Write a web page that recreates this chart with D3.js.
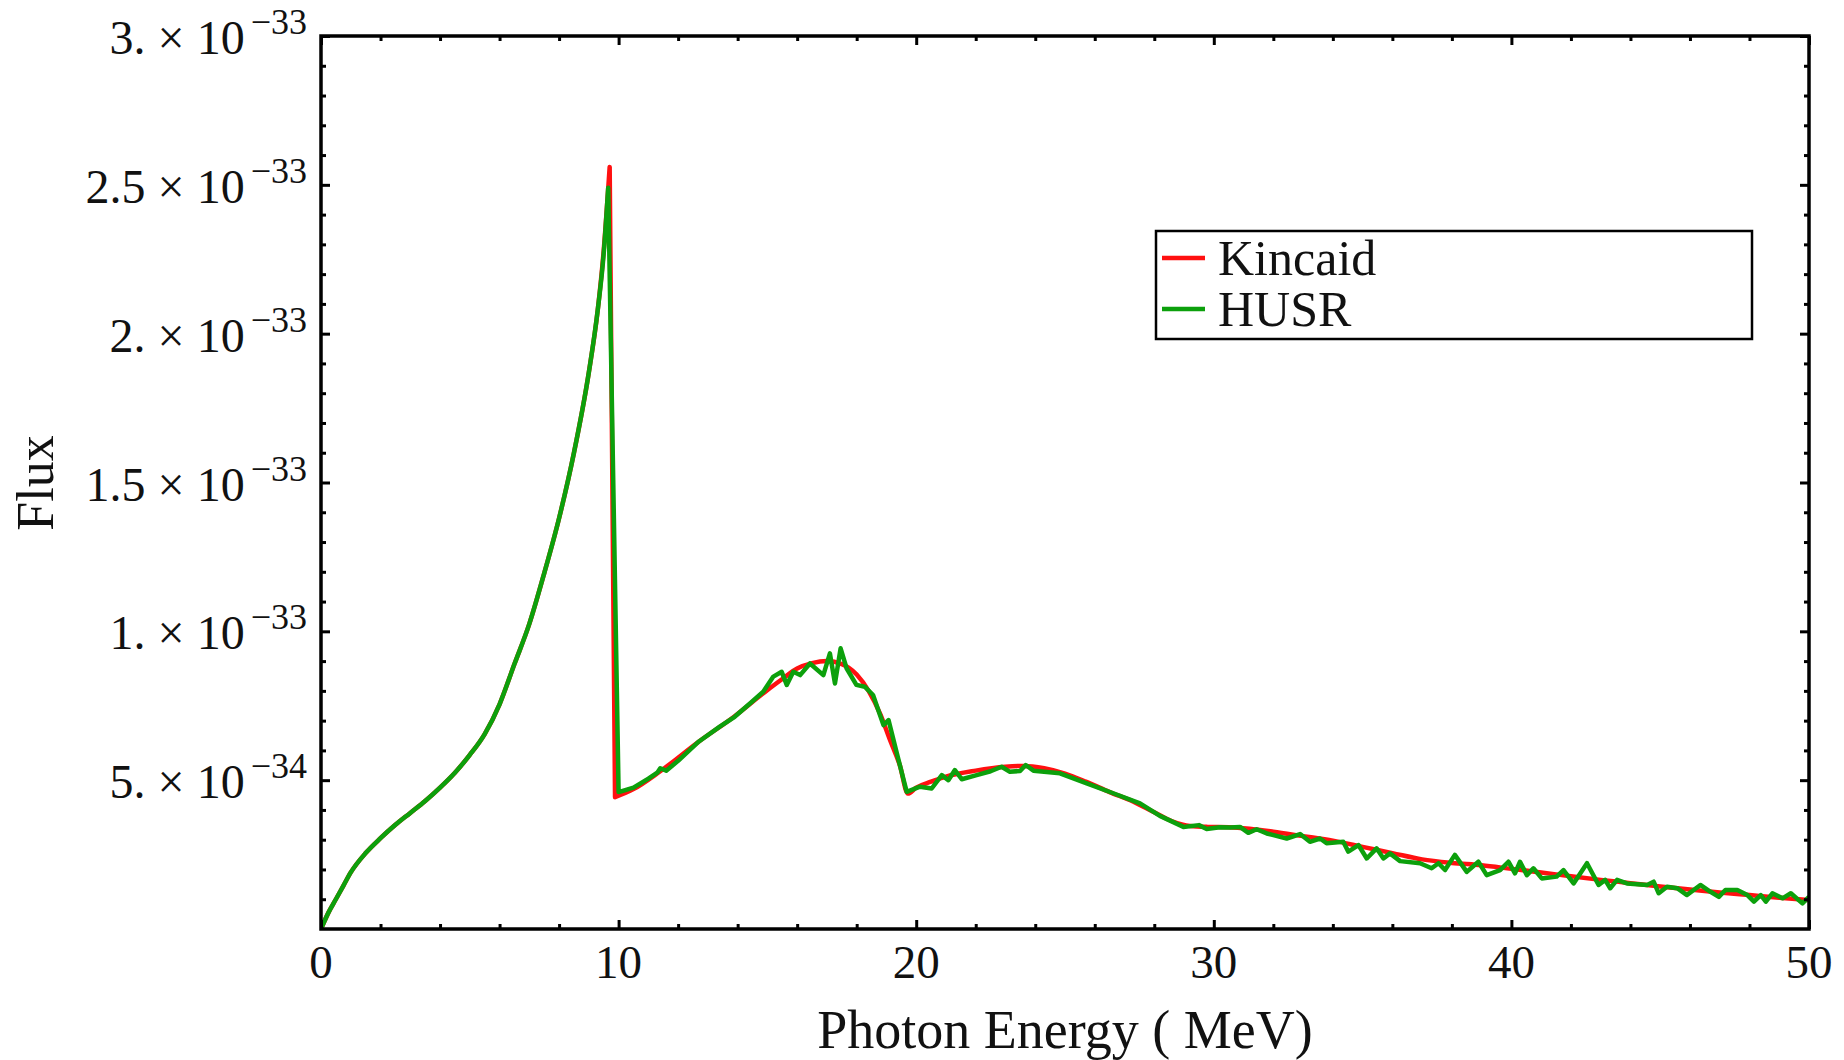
<!DOCTYPE html>
<html>
<head>
<meta charset="utf-8">
<script src="https://cdn.jsdelivr.net/npm/d3@7"></script>
<style>
  body { margin: 0; background: #ffffff; }
  text { font-family: "Liberation Serif", "DejaVu Serif", serif; fill: #111; }
</style>
</head>
<body>
<svg id="chart" width="1844" height="1060"></svg>
<script>
// Flux values are stored in units of 1e-33.
const FLUX_UNIT = 1e-33;

// Kincaid spectrum (smooth)
const kincaidEnergy = [0, 0.25, 0.5, 0.75, 1.0, 1.5, 2.0, 2.5, 3.0, 3.5, 4.0, 4.5, 5.0, 5.5, 6.0, 6.5, 7.0, 7.5, 8.0, 8.5, 9.0, 9.3, 9.5, 9.7,
  9.88, 10.5, 11.4, 12.7, 13.9, 14.9, 15.5, 16.0, 16.5, 17.0, 17.5, 18.0, 18.4, 18.8, 19.1, 19.45, 19.72,
  20.0, 20.5, 21.0, 22.0, 23.0, 23.6, 24.3, 25.0, 25.7, 26.5, 27.3, 28.0, 28.6, 29.2, 29.8,
  30.5, 31.2, 32.0, 33.0, 34.0, 35.0, 36.0, 37.0, 38.0, 39.0, 40.0, 41.0, 42.0, 43.0, 44.0, 45.0, 46.0, 47.0, 48.0, 49.0, 50.0];
const kincaidFlux = [0, 0.055, 0.1, 0.145, 0.19, 0.255, 0.305, 0.35, 0.39, 0.43, 0.475, 0.525, 0.585, 0.655, 0.755, 0.89, 1.025, 1.195, 1.38, 1.6, 1.87, 2.08, 2.28, 2.56,
  0.443, 0.47, 0.53, 0.63, 0.715, 0.795, 0.84, 0.875, 0.893, 0.90, 0.89, 0.855, 0.80, 0.72, 0.64, 0.55, 0.455,
  0.475, 0.495, 0.512, 0.532, 0.545, 0.548, 0.54, 0.522, 0.495, 0.46, 0.428, 0.392, 0.362, 0.346, 0.343,
  0.342, 0.337, 0.327, 0.312, 0.297, 0.276, 0.255, 0.234, 0.222, 0.214, 0.202, 0.19, 0.177, 0.165, 0.154, 0.143, 0.133, 0.123, 0.114, 0.105, 0.097];

// HUSR spectrum (Monte Carlo, noisy)
const husrEnergy = [0, 0.25, 0.5, 0.75, 1.0, 1.5, 2.0, 2.5, 3.0, 3.5, 4.0, 4.5, 5.0, 5.5, 6.0, 6.5, 7.0, 7.5, 8.0, 8.5, 9.0, 9.3, 9.5, 9.65,
  10.0, 10.5, 11.0, 11.3, 11.4, 11.6, 12.0, 12.7, 13.4, 13.9, 14.5, 14.86, 15.2, 15.48, 15.65, 15.87, 16.1, 16.43, 16.88, 17.1, 17.27, 17.46, 17.66,
  17.99, 18.27, 18.55, 18.9, 19.07, 19.35, 19.68, 20.13, 20.52, 20.86, 21.08, 21.3, 21.53, 22.03, 22.5, 22.87, 23.15, 23.49, 23.68, 23.94,
  24.83, 25.73, 26.62, 27.52, 28.19, 28.98, 29.5, 29.76, 30.2, 30.54, 30.88, 31.16, 31.44, 31.78, 32.45, 32.9, 33.23, 33.57, 33.79,
  34.35, 34.52, 34.86, 35.14, 35.47, 35.7, 35.92, 36.26, 36.93, 37.32, 37.55, 37.77, 38.1, 38.5, 38.89, 39.17, 39.62, 39.9, 40.12,
  40.29, 40.52, 40.74, 41.02, 41.52, 41.75, 42.09, 42.54, 42.93, 43.15, 43.32, 43.55, 43.88, 44.56, 44.78, 44.95, 45.23, 45.57, 45.9,
  46.35, 46.69, 46.97, 47.19, 47.59, 47.93, 48.15, 48.38, 48.55, 48.77, 49.11, 49.39, 49.78, 50.0];
const husrFlux = [0, 0.055, 0.1, 0.145, 0.19, 0.255, 0.305, 0.35, 0.39, 0.43, 0.475, 0.525, 0.585, 0.655, 0.755, 0.89, 1.025, 1.195, 1.38, 1.6, 1.87, 2.08, 2.27, 2.49,
  0.46, 0.475, 0.505, 0.525, 0.54, 0.532, 0.565, 0.63, 0.68, 0.713, 0.765, 0.797, 0.848, 0.864, 0.82, 0.864, 0.853, 0.892, 0.853, 0.926, 0.825, 0.943, 0.876,
  0.82, 0.814, 0.786, 0.685, 0.702, 0.59, 0.461, 0.478, 0.472, 0.517, 0.5, 0.534, 0.503, 0.517, 0.53, 0.545, 0.528, 0.531, 0.551, 0.532,
  0.523, 0.489, 0.456, 0.422, 0.38, 0.343, 0.349, 0.336, 0.342, 0.341, 0.343, 0.323, 0.335, 0.321, 0.304, 0.319, 0.293, 0.304, 0.288,
  0.293, 0.26, 0.282, 0.237, 0.271, 0.237, 0.254, 0.228, 0.221, 0.204, 0.221, 0.198, 0.249, 0.192, 0.226, 0.181, 0.198, 0.226, 0.187,
  0.226, 0.181, 0.204, 0.17, 0.176, 0.198, 0.153, 0.221, 0.148, 0.165, 0.137, 0.165, 0.153, 0.148, 0.159, 0.12, 0.142, 0.137, 0.114,
  0.148, 0.125, 0.108, 0.131, 0.131, 0.114, 0.092, 0.114, 0.092, 0.12, 0.103, 0.12, 0.086, 0.108];

// Axis ticks
const xMajorTicks = [0, 10, 20, 30, 40, 50];
const yMajorTicks = [0.5, 1.0, 1.5, 2.0, 2.5, 3.0];
const yTickMantissa = ["5.", "1.", "1.5", "2.", "2.5", "3."];
const yTickExponent = ["\u221234", "\u221233", "\u221233", "\u221233", "\u221233", "\u221233"];

const seriesNames = ["Kincaid", "HUSR"];
const seriesColors = ["#ff1010", "#0ca00c"];

const svg = d3.select("#chart");
const plot = { left: 321, right: 1809, top: 36, bottom: 929 };

const x = d3.scaleLinear().domain([0, 50]).range([plot.left, plot.right]);
const y = d3.scaleLinear().domain([0, 3 * FLUX_UNIT]).range([plot.bottom, plot.top]);

// Clip the curves to the frame
svg.append("defs").append("clipPath").attr("id", "plotClip")
  .append("rect")
  .attr("x", plot.left).attr("y", plot.top)
  .attr("width", plot.right - plot.left).attr("height", plot.bottom - plot.top);

const lineSmooth = d3.line()
  .x(d => x(d[0])).y(d => y(d[1] * FLUX_UNIT))
  .curve(d3.curveMonotoneX);
const lineStraight = d3.line()
  .x(d => x(d[0])).y(d => y(d[1] * FLUX_UNIT))
  .curve(d3.curveLinear);

const kincaid = kincaidEnergy.map((e, i) => [e, kincaidFlux[i]]);
const husr = husrEnergy.map((e, i) => [e, husrFlux[i]]);

// Path string built from pieces: smooth through the continuum,
// straight across the edge drop and through the sampled noise.
function piecewise(points, pieces) {
  return pieces.map(([a, b, gen]) => {
    const d = gen(points.slice(a, b + 1));
    return a === 0 ? d : d.replace(/^M/, "L");
  }).join("");
}
const kPeak = kincaidEnergy.indexOf(9.7), kFoot = kincaidEnergy.indexOf(9.88);
const hPeak = husrEnergy.indexOf(9.65);

const curves = svg.append("g").attr("clip-path", "url(#plotClip)");
curves.append("path")
  .attr("d", piecewise(kincaid, [
    [0, kPeak, lineSmooth],
    [kPeak, kFoot, lineStraight],
    [kFoot, kincaid.length - 1, lineSmooth]]))
  .attr("fill", "none")
  .attr("stroke", seriesColors[0]).attr("stroke-width", 4.5)
  .attr("stroke-linejoin", "round");
curves.append("path")
  .attr("d", piecewise(husr, [
    [0, hPeak, lineSmooth],
    [hPeak, husr.length - 1, lineStraight]]))
  .attr("fill", "none")
  .attr("stroke", seriesColors[1]).attr("stroke-width", 4.5)
  .attr("stroke-linejoin", "round");

// Frame with inward ticks on all four sides
const xMinor = d3.range(0, 50.001, 2).filter(v => v % 10 !== 0);
const yMinor = d3.range(1, 30).filter(v => v % 5 !== 0).map(v => v / 10 * FLUX_UNIT);
const yMajorVals = yMajorTicks.map(v => v * FLUX_UNIT);

function styleAxis(g) {
  g.select(".domain").remove();
  g.selectAll(".tick line").attr("stroke", "#000").attr("stroke-width", 3);
  g.selectAll(".tick text").remove();
}
const MAJ = 9, MIN = 5;
svg.append("g").attr("transform", `translate(0,${plot.bottom})`)
  .call(d3.axisBottom(x).tickValues(xMajorTicks).tickSize(-MAJ)).call(styleAxis);
svg.append("g").attr("transform", `translate(0,${plot.bottom})`)
  .call(d3.axisBottom(x).tickValues(xMinor).tickSize(-MIN)).call(styleAxis);
svg.append("g").attr("transform", `translate(0,${plot.top})`)
  .call(d3.axisTop(x).tickValues(xMajorTicks).tickSize(-MAJ)).call(styleAxis);
svg.append("g").attr("transform", `translate(0,${plot.top})`)
  .call(d3.axisTop(x).tickValues(xMinor).tickSize(-MIN)).call(styleAxis);
svg.append("g").attr("transform", `translate(${plot.left},0)`)
  .call(d3.axisLeft(y).tickValues(yMajorVals).tickSize(-MAJ)).call(styleAxis);
svg.append("g").attr("transform", `translate(${plot.left},0)`)
  .call(d3.axisLeft(y).tickValues(yMinor).tickSize(-MIN)).call(styleAxis);
svg.append("g").attr("transform", `translate(${plot.right},0)`)
  .call(d3.axisRight(y).tickValues(yMajorVals).tickSize(-MAJ)).call(styleAxis);
svg.append("g").attr("transform", `translate(${plot.right},0)`)
  .call(d3.axisRight(y).tickValues(yMinor).tickSize(-MIN)).call(styleAxis);

svg.append("rect")
  .attr("x", plot.left).attr("y", plot.top)
  .attr("width", plot.right - plot.left).attr("height", plot.bottom - plot.top)
  .attr("fill", "none").attr("stroke", "#000").attr("stroke-width", 3.5);

// x tick labels
svg.append("g").selectAll("text").data(xMajorTicks).join("text")
  .attr("x", d => x(d)).attr("y", plot.bottom + 49)
  .attr("text-anchor", "middle").attr("font-size", 47)
  .text(d => d);

// y tick labels: mantissa × 10^exponent
const yLabels = svg.append("g").selectAll("text").data(yMajorTicks).join("text")
  .attr("x", plot.left - 14)
  .attr("y", d => y(d * FLUX_UNIT) + 18)
  .attr("text-anchor", "end").attr("font-size", 48);
yLabels.append("tspan").text((d, i) => yTickMantissa[i] + " \u00d7 10");
yLabels.append("tspan").attr("dx", 6).attr("dy", -20).attr("font-size", 36)
  .text((d, i) => yTickExponent[i]);

// Axis titles
svg.append("text")
  .attr("x", (plot.left + plot.right) / 2).attr("y", 1048)
  .attr("text-anchor", "middle").attr("font-size", 54)
  .text("Photon Energy ( MeV)");
svg.append("text")
  .attr("transform", `translate(53,483) rotate(-90)`)
  .attr("text-anchor", "middle").attr("font-size", 52)
  .text("Flux");

// Legend
const legend = svg.append("g");
legend.append("rect")
  .attr("x", 1156).attr("y", 231).attr("width", 596).attr("height", 108)
  .attr("fill", "#fff").attr("stroke", "#000").attr("stroke-width", 2.5);
const rows = legend.selectAll("g.row").data(seriesNames).join("g")
  .attr("class", "row")
  .attr("transform", (d, i) => `translate(1162,${258 + i * 51})`);
rows.append("line").attr("x1", 0).attr("x2", 43).attr("y1", 0).attr("y2", 0)
  .attr("stroke", (d, i) => seriesColors[i]).attr("stroke-width", 4.5);
rows.append("text").attr("x", 56).attr("y", 17).attr("font-size", 50).text(d => d);
</script>
</body>
</html>
